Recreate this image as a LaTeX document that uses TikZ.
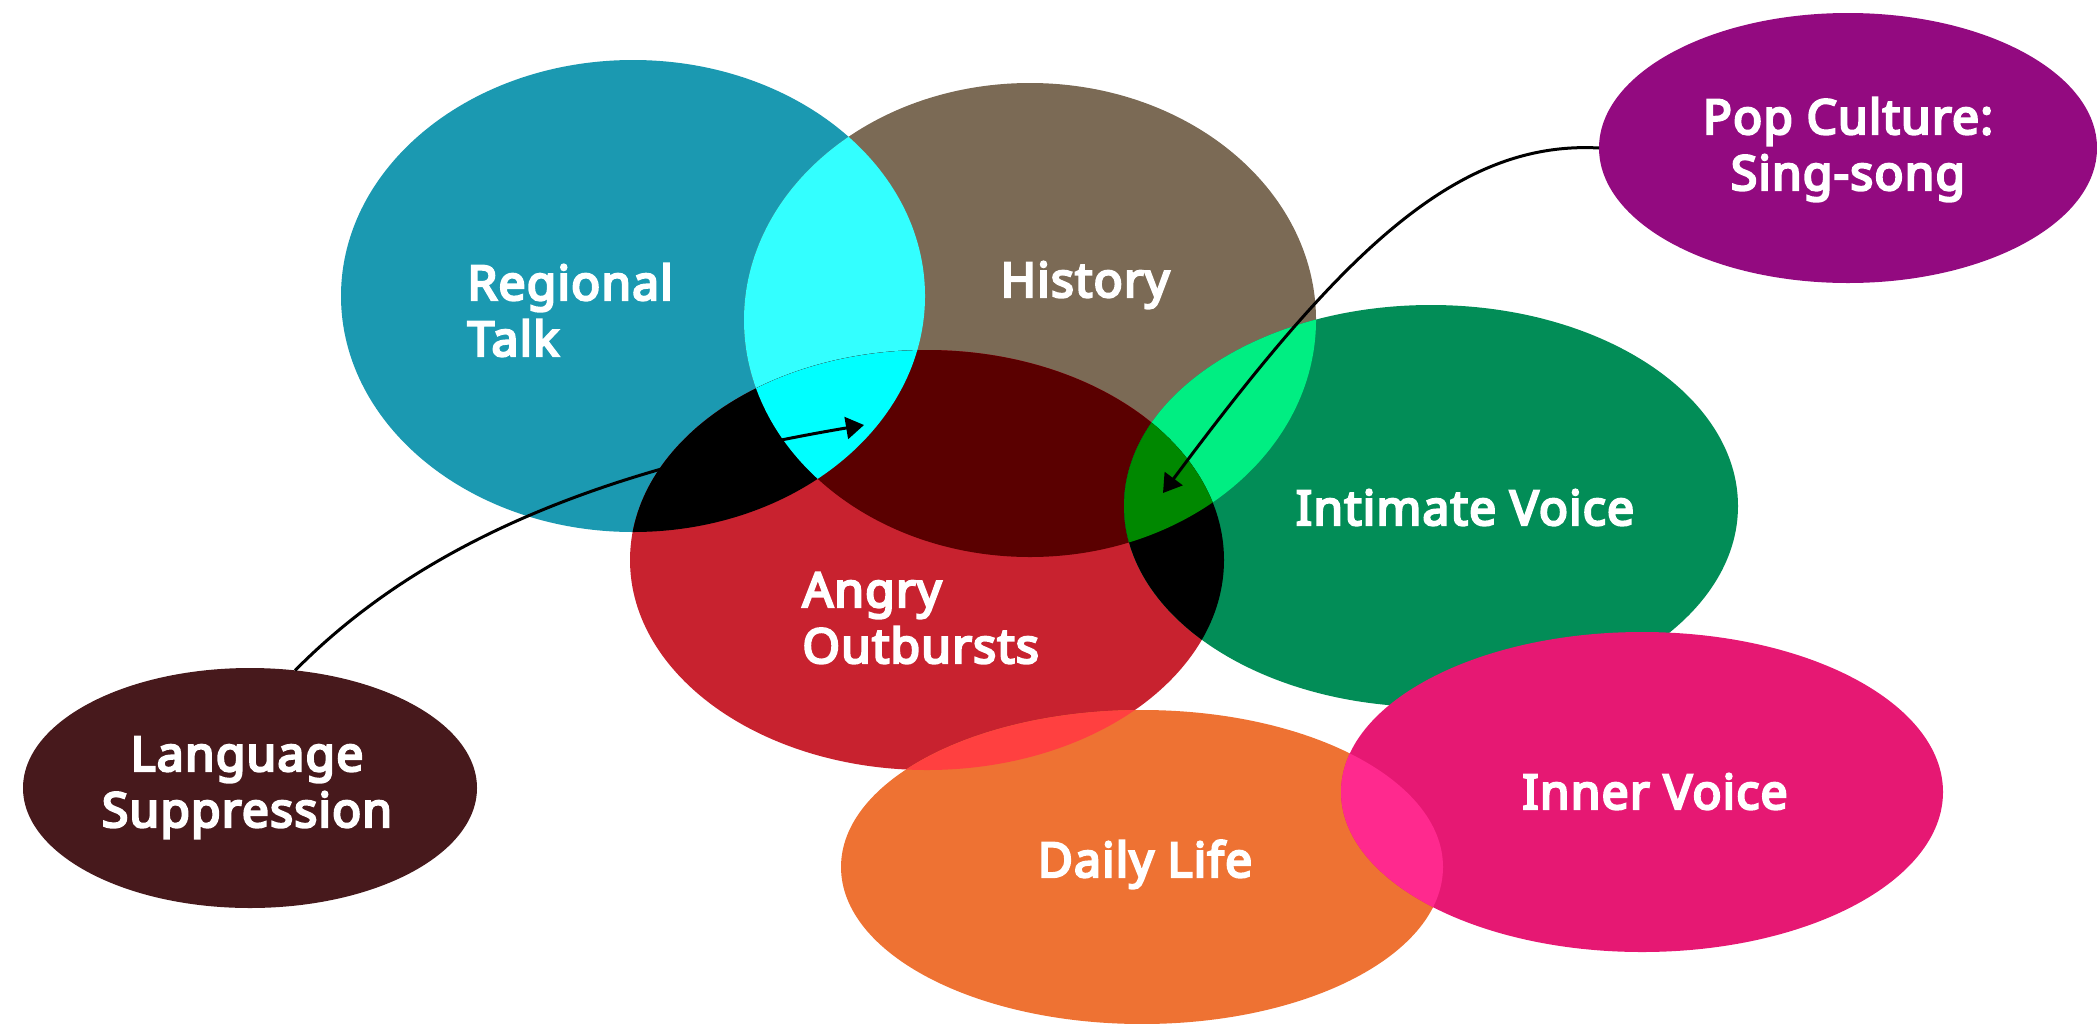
\documentclass[tikz,border=0pt]{standalone}
\usepackage{fontspec}
\newfontfamily\labelfont{Noto Sans}[FakeBold=5, LetterSpace=2.5]
\usetikzlibrary{shapes.geometric,arrows.meta}

\definecolor{regionalc}{HTML}{1B99B1}
\definecolor{historyc}{HTML}{7B6A55}
\definecolor{angryc}{HTML}{C8222F}
\definecolor{intimatec}{HTML}{028D57}
\definecolor{popc}{HTML}{930A80}
\definecolor{languagec}{HTML}{47191C}
\definecolor{dailyc}{HTML}{EE7233}
\definecolor{innerc}{HTML}{E61873}
\definecolor{rhc}{HTML}{33FFFF}
\definecolor{rhac}{HTML}{00FFFF}
\definecolor{hac}{HTML}{5A0000}
\definecolor{hic}{HTML}{00EE82}
\definecolor{hiac}{HTML}{008800}
\definecolor{adc}{HTML}{FF4040}
\definecolor{dic}{HTML}{FF298E}

% ellipse outlines, reused for the overlaps
\newcommand{\Eregional}{(633,296) ellipse [x radius=146pt, y radius=118pt]}
\newcommand{\Ehistory}{(1030,320) ellipse [x radius=143pt, y radius=118.5pt]}
\newcommand{\Eangry}{(927,560) ellipse [x radius=148.5pt, y radius=105pt]}
\newcommand{\Eintimate}{(1431,506) ellipse [x radius=153.5pt, y radius=100.5pt]}
\newcommand{\Edaily}{(1142,867) ellipse [x radius=150.5pt, y radius=78.5pt]}
\newcommand{\Einner}{(1642,792) ellipse [x radius=150.5pt, y radius=80pt]}

\tikzstyle{every picture}+=[x=0.5pt,y=-0.5pt]
\tikzstyle{every picture}+=[>={Triangle[length=9pt,width=11pt]}]
\tikzstyle{every picture}+=[line width=1.5pt]
\tikzstyle{blob}=[ellipse, draw=none, inner sep=0pt, outer sep=0pt]
\tikzstyle{txt}=[text=white, inner sep=0pt]
\tikzstyle{txt}+=[font=\labelfont\fontsize{24}{28}\selectfont]
\tikzstyle{link}=[->, black]

\begin{document}
\begin{tikzpicture}
\useasboundingbox (0,0) rectangle (2097,1023);

\node[blob, fill=languagec, minimum width=227pt, minimum height=120pt] (language) at (250,788) {};
\node[blob, fill=regionalc, minimum width=292pt, minimum height=236pt] (regional) at (633,296) {};
\node[blob, fill=historyc, minimum width=286pt, minimum height=237pt] (history) at (1030,320) {};
\node[blob, fill=angryc, minimum width=297pt, minimum height=210pt] (angry) at (927,560) {};
\node[blob, fill=intimatec, minimum width=307pt, minimum height=201pt] (intimate) at (1431,506) {};
\node[blob, fill=popc, minimum width=249pt, minimum height=135pt] (pop) at (1848,148) {};
\node[blob, fill=dailyc, minimum width=301pt, minimum height=157pt] (daily) at (1142,867) {};
\node[blob, fill=innerc, minimum width=301pt, minimum height=160pt] (inner) at (1642,792) {};

% overlaps
\begin{scope}
  \clip \Eregional;
  \fill[rhc] \Ehistory;
  \fill[black] \Eangry;
\end{scope}
\begin{scope}
  \clip \Ehistory;
  \fill[hac] \Eangry;
  \fill[hic] \Eintimate;
\end{scope}
\begin{scope}
  \clip \Eangry;
  \fill[black] \Eintimate;
  \fill[adc] \Edaily;
\end{scope}
\begin{scope}
  \clip \Eregional; \clip \Ehistory;
  \fill[rhac] \Eangry;
\end{scope}
\begin{scope}
  \clip \Ehistory; \clip \Eangry;
  \fill[hiac] \Eintimate;
\end{scope}
\begin{scope}
  \clip \Edaily;
  \fill[dic] \Einner;
\end{scope}

% labels (base = last line)
\node[txt, align=left, anchor=base west] (l_regional) at (466,356) {Regional\\Talk};
\node[txt, anchor=base] (l_history) at (1085,297) {History};
\node[txt, align=left, anchor=base west] (l_angry) at (801,663) {Angry\\Outbursts};
\node[txt, anchor=base] (l_intimate) at (1465,525) {Intimate Voice};
\node[txt, align=center, anchor=base] (l_pop) at (1848,190) {Pop Culture:\\Sing-song};
\node[txt, align=center, anchor=base] (l_language) at (247,827) {Language\\Suppression};
\node[txt, anchor=base] (l_daily) at (1145,877) {Daily Life};
\node[txt, anchor=base] (l_inner) at (1655,809) {Inner Voice};

\coordinate (tip1) at (864,425);
\coordinate (tip2) at (1163,493);

\draw[link] (language.69) .. controls (427,537) and (614,467) .. (tip1);
\draw[link] (pop.west) .. controls (1455,140) and (1340,255) .. (tip2);
\end{tikzpicture}
\end{document}
